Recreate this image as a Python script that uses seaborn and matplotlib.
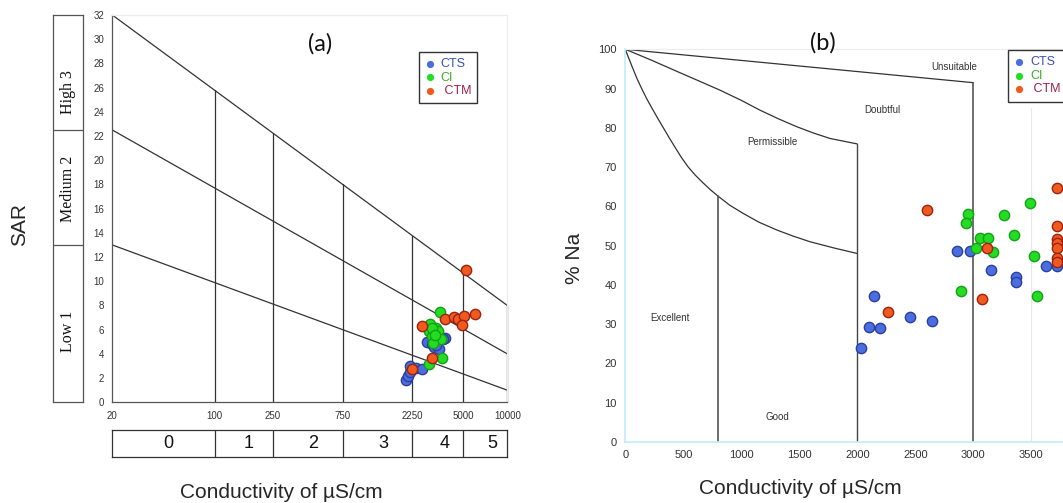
import matplotlib
matplotlib.use("Agg")
import matplotlib.pyplot as plt
import numpy as np
import pandas as pd
import seaborn as sns

# ---- (a) SAR vs conductivity (Richards diagram) ----
cts_ec_a = [2026, 2101, 2169, 2158, 2396, 2607, 2836, 3051, 3150, 3390, 3765, 3610, 3250]
cts_sar  = [1.82, 2.20, 2.48, 2.98, 2.81, 2.75, 4.96, 4.85, 4.57, 4.44, 5.32, 5.23, 4.77]
ci_ec_a  = [3480, 2957, 3250, 2926, 3354, 3051, 3535, 3116, 3553, 2895, 3035, 3216]
ci_sar   = [7.47, 6.47, 6.14, 5.87, 5.87, 5.51, 5.23, 4.90, 3.64, 3.17, 6.14, 5.59]
ctm_ec_a = [5188, 3765, 4315, 4620, 5024, 4920, 5985, 2594, 3055, 2250]
ctm_sar  = [10.9, 6.90, 7.05, 6.89, 7.10, 6.39, 7.33, 6.34, 3.66, 2.78]

sar_ticks      = [20, 100, 250, 750, 2250, 5000, 10000]
sar_line_ends  = [(32, 8), (22.5, 4), (13, 1)]   # SAR at EC=20 and EC=10000
class_bounds   = [100, 250, 750, 2250, 5000]
class_labels   = ['0', '1', '2', '3', '4', '5']
class_label_x  = [48, 172, 472, 1422, 3717, 7870]
hazard_labels  = ['Low 1', 'Medium 2', 'High 3']
hazard_bounds  = [13, 22.5]
hazard_label_y = [5.9, 17.6, 25.6]

# ---- (b) %Na vs conductivity (Wilcox diagram) ----
cts_ec_b = [2029, 2101, 2193, 2147, 2454, 2641, 2857, 2974, 3150, 3371, 3371, 3630, 3722]
cts_na   = [24.0, 29.4, 29.0, 37.3, 31.9, 30.8, 48.6, 48.6, 43.9, 41.9, 40.7, 44.9, 44.9]
ci_ec_b  = [2954, 2935, 3055, 3129, 3026, 3173, 3267, 3351, 3491, 3521, 2897, 3552]
ci_na    = [58.1, 55.8, 52.0, 51.9, 49.5, 48.3, 57.8, 52.6, 60.9, 47.4, 38.5, 37.3]
ctm_ec_b = [2598, 2262, 3118, 3075, 3725, 3725, 3725, 3725, 3725, 3725, 3725]
ctm_na   = [59.2, 33.1, 49.3, 36.4, 64.8, 55.0, 51.8, 50.6, 49.5, 46.9, 45.8]

outer_x = [0, 3000]
outer_y = [100, 91.5]
mid_x   = [0, 220, 443, 630, 816, 1000, 1161, 1320, 1477, 1620, 1764, 2000]
mid_y   = [100, 97.3, 94.4, 92.0, 89.6, 87.0, 84.5, 82.3, 80.3, 78.7, 77.3, 75.9]
inner_x = [0, 30, 60, 100, 141, 185, 230, 280, 328, 380, 430, 485, 543, 605, 670, 735,
           800, 900, 1017, 1150, 1305, 1450, 1592, 1800, 2000]
inner_y = [100, 97.7, 95.5, 92.6, 90, 87.4, 85, 82.4, 80, 77.4, 75, 72.4, 70, 67.9, 66, 64.2,
           62.6, 60.3, 58.2, 56.0, 54.0, 52.4, 51.0, 49.4, 48.0]
region_names = ['Excellent', 'Good', 'Permissible', 'Doubtful', 'Unsuitable']
region_x     = [383, 1307, 1267, 2219, 2836]
region_y     = [31.5, 6.4, 76.5, 84.5, 95.6]

groups      = ['CTS', 'CI', 'CTM']
fill_colors = {'CTS': '#4a6ee0', 'CI': '#22dd22', 'CTM': '#f05a1e'}
edge_colors = {'CTS': '#2b3f9e', 'CI': '#16a016', 'CTM': '#a02010'}
text_colors = {'CTS': '#3b4fb8', 'CI': '#3faa2a', 'CTM': '#a0204a'}

df_a = pd.concat([
    pd.DataFrame({'ec': cts_ec_a, 'val': cts_sar, 'group': 'CTS'}),
    pd.DataFrame({'ec': ci_ec_a, 'val': ci_sar, 'group': 'CI'}),
    pd.DataFrame({'ec': ctm_ec_a, 'val': ctm_sar, 'group': 'CTM'}),
])
df_b = pd.concat([
    pd.DataFrame({'ec': cts_ec_b, 'val': cts_na, 'group': 'CTS'}),
    pd.DataFrame({'ec': ci_ec_b, 'val': ci_na, 'group': 'CI'}),
    pd.DataFrame({'ec': ctm_ec_b, 'val': ctm_na, 'group': 'CTM'}),
])

sns.set_style('white')
plt.rcParams['font.family'] = ['Liberation Sans', 'DejaVu Sans']

W, H = 1063, 503
fig = plt.figure(figsize=(W / 100, H / 100), dpi=100)


def px_axes(left, top, right, bottom):
    return fig.add_axes([left / W, 1 - bottom / H, (right - left) / W, (bottom - top) / H])


line_kw = dict(color='#333333', lw=0.9)
tick_col = '#f2a0a0'


def scatter_groups(ax, df, size):
    for g in groups:
        sns.scatterplot(data=df[df['group'] == g], x='ec', y='val', ax=ax,
                        color=fill_colors[g], edgecolor=edge_colors[g],
                        linewidth=1.0, s=size, label=(' ' + g if g == 'CTM' else g),
                        zorder=5, clip_on=True)


def style_legend(ax, anchor):
    leg = ax.legend(loc='upper left', bbox_to_anchor=anchor, borderaxespad=0,
                    fontsize=9, frameon=True, fancybox=False, framealpha=1,
                    edgecolor='#333333', markerscale=0.7, handlelength=0.8,
                    handletextpad=0.45, labelspacing=0.12, borderpad=0.5)
    leg.get_frame().set_linewidth(1.0)
    for txt, g in zip(leg.get_texts(), groups):
        txt.set_color(text_colors[g])
    for h in leg.legend_handles:
        h.set_linewidth(0)
    return leg


# ================= panel (a) =================
ax = px_axes(112.3, 15, 507.3, 402.3)
ax.set_xscale('log')
ax.set_xlim(20, 10000)
ax.set_ylim(0, 32)

lx = np.log10([20, 10000])
for y0, y1 in sar_line_ends:
    ax.plot([20, 10000], [y0, y1], **line_kw, zorder=2)
top_y0, top_y1 = sar_line_ends[0]
for b in class_bounds:
    yb = np.interp(np.log10(b), lx, [top_y0, top_y1])
    ax.plot([b, b], [0, yb], **line_kw, zorder=2)
ax.plot([10000, 10000], [0, top_y1], **line_kw, zorder=2, clip_on=False)

scatter_groups(ax, df_a, 55)
style_legend(ax, (0.776, 0.905))

ax.set_xticks(sar_ticks)
ax.set_xticklabels([str(t) for t in sar_ticks])
ax.xaxis.set_minor_locator(matplotlib.ticker.NullLocator())
ax.set_yticks(range(0, 33, 2))
ax.tick_params(axis='both', direction='out', length=4, width=0.8, color=tick_col,
               labelsize=7, labelcolor='#333333', pad=2)
ax.set_xlabel('')
ax.set_ylabel('')
for s in ['left', 'bottom']:
    ax.spines[s].set_color('#555555')
    ax.spines[s].set_linewidth(0.9)
for s in ['top', 'right']:
    ax.spines[s].set_color('#ececec')
    ax.spines[s].set_linewidth(0.9)

# salinity class strip
axc = px_axes(112.3, 430, 507.3, 457.3)
axc.set_xscale('log')
axc.set_xlim(20, 10000)
axc.set_ylim(0, 1)
for b in class_bounds:
    axc.axvline(b, color='#333333', lw=0.9)
for xl, lab in zip(class_label_x, class_labels):
    axc.text(xl, 0.5, lab, ha='center', va='center', fontsize=13, color='#111111')
axc.set_xticks([])
axc.set_yticks([])
axc.xaxis.set_minor_locator(matplotlib.ticker.NullLocator())
for s in axc.spines.values():
    s.set_color('#333333')
    s.set_linewidth(0.9)

# sodium hazard strip
axs = px_axes(53.3, 15, 83.3, 402.3)
axs.set_xlim(0, 1)
axs.set_ylim(0, 32)
for hb in hazard_bounds:
    axs.axhline(hb, color='#555555', lw=0.9)
for yl, lab in zip(hazard_label_y, hazard_labels):
    axs.text(0.5, yl, lab, ha='center', va='center', rotation=90, fontsize=11.5,
             family=['Liberation Serif', 'DejaVu Serif'], color='#111111')
axs.set_xticks([])
axs.set_yticks([])
for s in axs.spines.values():
    s.set_color('#555555')
    s.set_linewidth(0.9)

fig.text(320 / W, 1 - 44 / H, '(a)', ha='center', va='center', fontsize=17,
         family=['Lato', 'DejaVu Sans'], color='#111111')
fig.text(20 / W, 1 - 224 / H, 'SAR', ha='center', va='center', rotation=90, fontsize=15)
fig.text(281.7 / W, 1 - 493 / H, 'Conductivity of µS/cm', ha='center', va='center', fontsize=15)

# ================= panel (b) =================
bx = px_axes(625.3, 49.3, 625.3 + 464, 442)
bx.set_xlim(0, 4000)
bx.set_ylim(0, 100)

bx.plot(outer_x, outer_y, **line_kw, zorder=2)
bx.plot(mid_x, mid_y, **line_kw, zorder=2)
bx.plot(inner_x, inner_y, **line_kw, zorder=2)
bx.plot([outer_x[-1]] * 2, [0, outer_y[-1]], color='#555555', lw=1.2, zorder=2)
bx.plot([mid_x[-1]] * 2, [0, mid_y[-1]], color='#444444', lw=1.0, zorder=2)
bx.plot([inner_x[16]] * 2, [0, inner_y[16]], color='#555555', lw=1.2, zorder=2)
bx.plot([3500, 3500], [0, 85], color='#e8e8e8', lw=0.9, zorder=1)

for name, rx, ry in zip(region_names, region_x, region_y):
    bx.text(rx, ry, name, ha='center', va='center', fontsize=7, color='#333333')

scatter_groups(bx, df_b, 55)
style_legend(bx, (0.825, 0.998))

bx.set_xticks(range(0, 3501, 500))
bx.set_yticks(range(0, 101, 10))
bx.tick_params(axis='both', direction='out', length=4, width=0.8, color=tick_col,
               labelsize=8, labelcolor='#333333', pad=2)
bx.set_xlabel('')
bx.set_ylabel('')
for s in ['left', 'bottom']:
    bx.spines[s].set_color('#bfeef6')
    bx.spines[s].set_linewidth(1.2)
bx.spines['top'].set_color('#ececec')
bx.spines['right'].set_visible(False)

fig.text(822.7 / W, 1 - 43 / H, '(b)', ha='center', va='center', fontsize=17,
         family=['Lato', 'DejaVu Sans'], color='#111111')
fig.text(574 / W, 1 - 258 / H, '% Na', ha='center', va='center', rotation=90, fontsize=15)
fig.text(800 / W, 1 - 488 / H, 'Conductivity of µS/cm', ha='center', va='center', fontsize=15)

fig.savefig('out.png', dpi=100)
